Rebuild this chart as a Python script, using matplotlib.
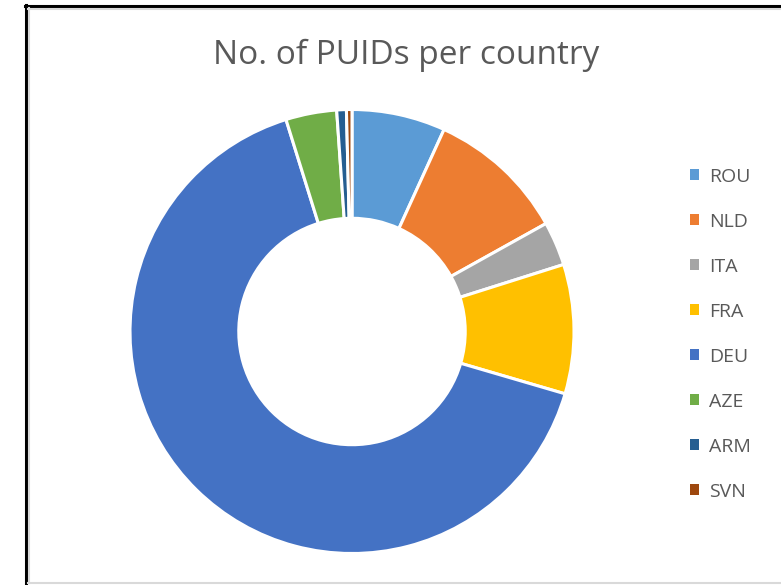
import matplotlib
matplotlib.use("Agg")
import matplotlib.pyplot as plt
from matplotlib.lines import Line2D
from matplotlib.patches import Patch

countries = ["ROU", "NLD", "ITA", "FRA", "DEU", "AZE", "ARM", "SVN"]
shares = [6.8, 10.1, 3.2, 9.4, 65.6, 3.7, 0.7, 0.4]
colors = ["#5B9BD5", "#ED7D31", "#A5A5A5", "#FFC000", "#4472C4", "#70AD47", "#255E91", "#9E480E"]
title = "No. of PUIDs per country"

plt.rcParams["font.family"] = ["Open Sans", "DejaVu Sans"]

W, H = 781, 585
fig = plt.figure(figsize=(W / 100, H / 100), dpi=100)
fig.patch.set_facecolor("white")

# frame lines (pixel coords -> figure fraction)
def fx(x): return x / W
def fy(y): return 1 - y / H
fig.add_artist(Line2D([fx(25.5), fx(25.5)], [fy(5), fy(585)], color="black", lw=2.2))
fig.add_artist(Line2D([fx(25), fx(781)], [fy(5.5), fy(5.5)], color="black", lw=2.2))
fig.add_artist(Line2D([fx(28.5), fx(28.5)], [fy(8), fy(583)], color="#D9D9D9", lw=1.5))
fig.add_artist(Line2D([fx(28), fx(781)], [fy(8.5), fy(8.5)], color="#D9D9D9", lw=1.5))
fig.add_artist(Line2D([fx(28), fx(781)], [fy(583), fy(583)], color="#D9D9D9", lw=1.5))

# pie axes: center (352, 331), radius 222
cx, cy, r = 352, 331.5, 222
ax = fig.add_axes([fx(cx - r), fy(cy + r), 2 * r / W, 2 * r / H])
ax.pie(shares, colors=colors, startangle=90, counterclock=False,
       radius=1.0, wedgeprops=dict(width=0.49, edgecolor="white", linewidth=2.2))
ax.set_xlim(-1, 1)
ax.set_ylim(-1, 1)
ax.set_aspect("equal")
ax.axis("off")

fig.text(fx(406), fy(55), title, ha="center", va="center", fontsize=24, color="#595959")

handles = [Patch(facecolor=c, edgecolor="none") for c in colors]
leg = fig.legend(handles, countries, loc="upper left",
                 bbox_to_anchor=(fx(672), fy(150)), frameon=False,
                 fontsize=14, labelcolor="#595959", handlelength=0.5, handleheight=0.5,
                 handletextpad=0.5, labelspacing=1.39)

fig.savefig("out.png", dpi=100)
